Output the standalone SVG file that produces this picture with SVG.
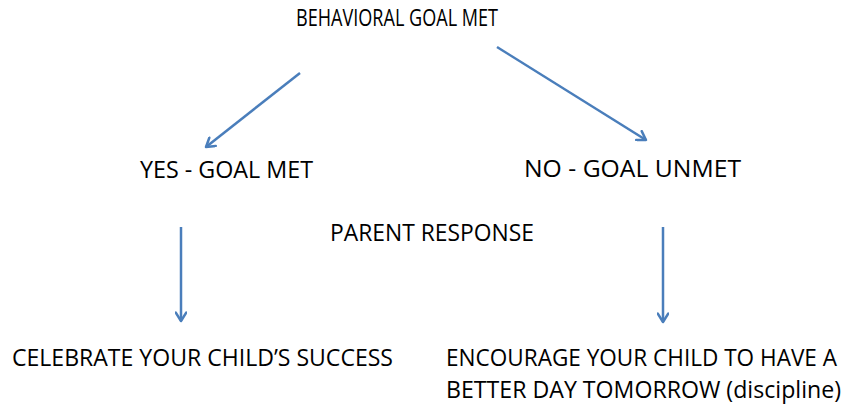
<svg xmlns="http://www.w3.org/2000/svg" width="843" height="404" viewBox="0 0 843 404">
<style>
text{font-family:"Open Sans","Noto Sans","Liberation Sans",sans-serif;font-size:23px;fill:#000}
.c{stroke:#4a7ebb;stroke-width:2.5;fill:none}
</style>
<defs>
<marker id="ah" viewBox="0 0 12 12" refX="10" refY="6" markerWidth="5" markerHeight="5" markerUnits="strokeWidth" orient="auto">
<path d="M2,1 L10,6 L2,11" fill="none" stroke="#4a7ebb" stroke-width="2.4" stroke-linecap="round" stroke-linejoin="round"/>
</marker>
</defs>
<rect width="843" height="404" fill="#fff"/>
<g id="connectors">
<line class="c" x1="300" y1="73" x2="206" y2="147" marker-end="url(#ah)"/>
<line class="c" x1="497" y1="47" x2="646" y2="140" marker-end="url(#ah)"/>
<line class="c" x1="181" y1="227" x2="181" y2="321" marker-end="url(#ah)"/>
<line class="c" x1="663" y1="227" x2="663" y2="322" marker-end="url(#ah)"/>
</g>
<g id="goal"><text x="296" y="26" textLength="202" lengthAdjust="spacingAndGlyphs">BEHAVIORAL GOAL MET</text></g>
<g id="yes"><text x="140" y="178" textLength="173" lengthAdjust="spacingAndGlyphs">YES - GOAL MET</text></g>
<g id="no"><text x="524" y="177" textLength="217" lengthAdjust="spacingAndGlyphs">NO - GOAL UNMET</text></g>
<g id="parent"><text x="330" y="241" textLength="204" lengthAdjust="spacingAndGlyphs">PARENT RESPONSE</text></g>
<g id="celebrate"><text x="12" y="366" textLength="381" lengthAdjust="spacingAndGlyphs">CELEBRATE YOUR CHILD’S SUCCESS</text></g>
<g id="encourage">
<text x="446" y="366" textLength="391" lengthAdjust="spacingAndGlyphs">ENCOURAGE YOUR CHILD TO HAVE A</text>
<text x="446" y="398" textLength="395" lengthAdjust="spacingAndGlyphs">BETTER DAY TOMORROW (discipline)</text>
</g>
</svg>
